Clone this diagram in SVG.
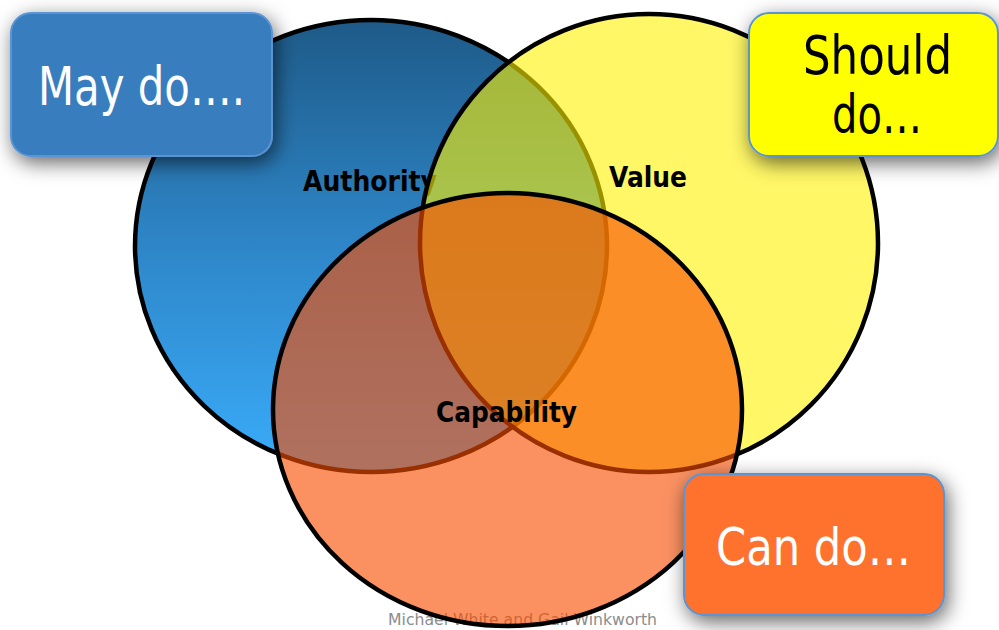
<svg xmlns="http://www.w3.org/2000/svg" width="999" height="630" viewBox="0 0 999 630">
  <style>
    .ring { stroke: #000; stroke-width: 4.5; }
    .lbl { font-family: "DejaVu Sans", Verdana, sans-serif; font-weight: bold; fill: #000; }
    .box { stroke: #5b93d3; stroke-width: 2; filter: url(#sh); }
    .big { font-family: "DejaVu Sans", Verdana, sans-serif; }
  </style>
  <defs>
    <linearGradient id="blueg" gradientUnits="userSpaceOnUse" x1="0" y1="20" x2="0" y2="472">
      <stop offset="0" stop-color="#1e5a88"/>
      <stop offset="0.5" stop-color="#2e86c8"/>
      <stop offset="1" stop-color="#3aacfa"/>
    </linearGradient>
    <filter id="sh" x="-30%" y="-40%" width="160%" height="190%">
      <feDropShadow dx="3" dy="6" stdDeviation="10" flood-color="#000" flood-opacity="0.6"/>
    </filter>
  </defs>

  <rect width="999" height="630" fill="#fff"/>

  <g id="authority">
    <ellipse class="ring" cx="371" cy="246" rx="236" ry="226" fill="url(#blueg)"/>
    <text class="lbl" x="303" y="191" font-size="29" textLength="134" lengthAdjust="spacingAndGlyphs">Authority</text>
  </g>

  <g id="value">
    <circle class="ring" cx="649" cy="243" r="229" fill="#fff200" fill-opacity="0.6"/>
    <text class="lbl" x="609" y="187" font-size="28" textLength="78" lengthAdjust="spacingAndGlyphs">Value</text>
  </g>

  <g id="footer">
    <text x="388" y="625" font-family="'DejaVu Sans', Verdana, sans-serif" font-size="15" fill="#8c8c8c" textLength="269" lengthAdjust="spacingAndGlyphs">Michael White and Gail Winkworth</text>
  </g>

  <g id="capability">
    <ellipse class="ring" cx="507.5" cy="409.5" rx="234.5" ry="216.5" fill="#f84d00" fill-opacity="0.62"/>
    <text class="lbl" x="436" y="422" font-size="29" textLength="141" lengthAdjust="spacingAndGlyphs">Capability</text>
  </g>

  <g id="may-do">
    <rect class="box" x="11" y="13" width="261" height="143" rx="20" fill="#377ebe"/>
    <text class="big" x="38" y="105" font-size="53" fill="#fff" textLength="207" lengthAdjust="spacingAndGlyphs">May do….</text>
  </g>

  <g id="should-do">
    <rect class="box" x="749" y="13" width="249" height="143" rx="20" fill="#ffff00"/>
    <text class="big" x="803" y="74" font-size="53" fill="#000" textLength="149" lengthAdjust="spacingAndGlyphs">Should</text>
    <text class="big" x="832" y="133" font-size="53" fill="#000" textLength="90" lengthAdjust="spacingAndGlyphs">do…</text>
  </g>

  <g id="can-do">
    <rect class="box" x="684" y="474" width="260" height="141" rx="20" fill="#fe722d"/>
    <text class="big" x="716" y="565" font-size="52" fill="#fff" textLength="195" lengthAdjust="spacingAndGlyphs">Can do…</text>
  </g>
</svg>
